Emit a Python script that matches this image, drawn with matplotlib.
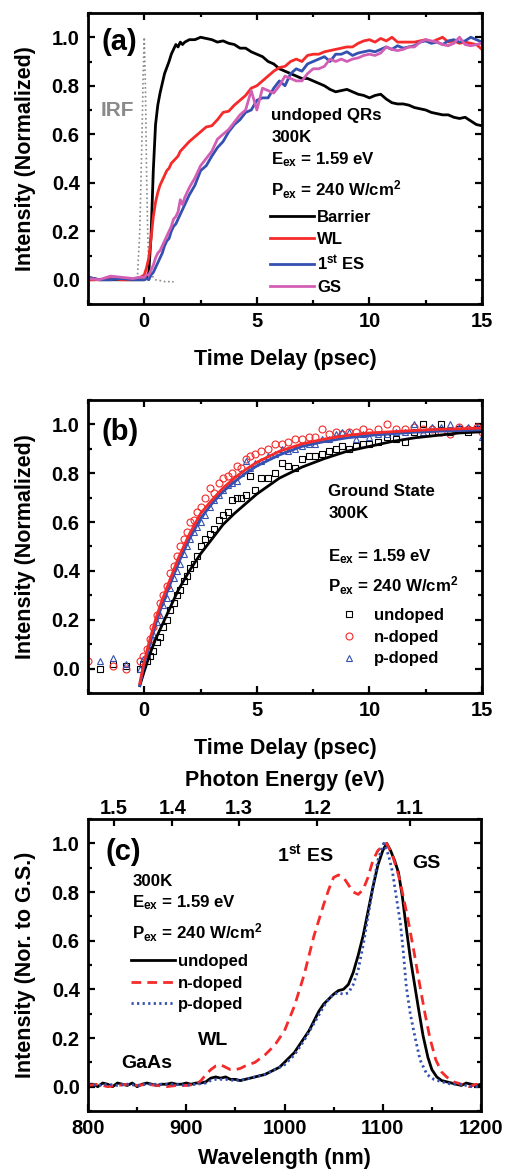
import matplotlib
matplotlib.use("Agg")
import matplotlib.pyplot as plt
from matplotlib.ticker import MultipleLocator, FormatStrFormatter
import numpy as np

plt.rcParams['font.family'] = ['Liberation Sans', 'DejaVu Sans']
plt.rcParams['font.weight'] = 'bold'
plt.rcParams['axes.labelweight'] = 'bold'
plt.rcParams['mathtext.fontset'] = 'custom'
plt.rcParams['mathtext.rm'] = 'Liberation Sans:bold'
plt.rcParams['mathtext.bf'] = 'Liberation Sans:bold'
plt.rcParams['mathtext.it'] = 'Liberation Sans:bold'
plt.rcParams['mathtext.default'] = 'rm'

RED = '#f52a2a'
BLUE = '#3450b0'
PINK = '#d35fb5'

# ---------------- panel (a): time-resolved PL, undoped QRs ----------------
t_a = [-2.5, -2.0, -1.5, -1.0, -0.5, -0.25,
       0.0, 0.1, 0.2, 0.3, 0.4, 0.5, 0.6, 0.7, 0.8, 0.9, 1.0,
       1.1, 1.2, 1.3, 1.4, 1.5, 1.6, 1.7, 1.8, 1.9, 2.0,
       2.25, 2.5, 2.75, 3.0, 3.25, 3.5, 3.75, 4.0, 4.25, 4.5, 4.75, 5.0,
       5.25, 5.5, 5.75, 6.0, 6.25, 6.5, 6.75, 7.0, 7.25, 7.5, 7.75, 8.0,
       8.25, 8.5, 8.75, 9.0, 9.25, 9.5, 9.75, 10.0, 10.25, 10.5, 10.75, 11.0,
       11.25, 11.5, 11.75, 12.0, 12.25, 12.5, 12.75, 13.0, 13.25, 13.5, 13.75, 14.0,
       14.25, 14.5, 14.75, 15.0]
barrier = [0.01, 0.0, 0.0, 0.0, 0.0, 0.0,
           0.0, 0.01, 0.03, 0.18, 0.45, 0.64, 0.72, 0.77, 0.81, 0.85, 0.875,
           0.90, 0.93, 0.95, 0.97, 0.96, 0.98, 0.97, 0.98, 0.985, 0.99,
           0.99, 1.0, 0.995, 0.99, 0.98, 0.985, 0.975, 0.97, 0.955, 0.955, 0.94, 0.93,
           0.92, 0.90, 0.89, 0.87, 0.86, 0.85, 0.84, 0.83, 0.83, 0.82, 0.81, 0.80,
           0.785, 0.775, 0.78, 0.785, 0.775, 0.765, 0.76, 0.75, 0.76, 0.765, 0.745, 0.73,
           0.725, 0.725, 0.72, 0.71, 0.705, 0.70, 0.69, 0.685, 0.68, 0.68, 0.67, 0.665,
           0.67, 0.655, 0.64, 0.635]
wl_a = [0.0, 0.0, 0.005, 0.0, 0.0, 0.005,
        0.02, 0.05, 0.09, 0.17, 0.26, 0.32, 0.36, 0.39, 0.41, 0.43, 0.45,
        0.46, 0.48, 0.49, 0.50, 0.51, 0.53, 0.54, 0.55, 0.56, 0.57,
        0.59, 0.61, 0.63, 0.635, 0.66, 0.69, 0.695, 0.72, 0.74, 0.76, 0.79, 0.80,
        0.82, 0.84, 0.86, 0.875, 0.88, 0.90, 0.91, 0.90, 0.925, 0.93, 0.93, 0.94,
        0.945, 0.95, 0.955, 0.96, 0.96, 0.975, 0.985, 0.99, 0.98, 0.995, 0.985, 1.0,
        0.98, 0.98, 0.98, 0.98, 0.985, 0.99, 0.98, 0.99, 1.0, 0.98, 0.985, 0.975,
        0.98, 0.975, 0.97, 0.95]
es1 = [0.01, 0.0, 0.0, 0.005, 0.0, 0.0,
       0.0, 0.005, 0.0, 0.02, 0.03, 0.05, 0.07, 0.09, 0.11, 0.14, 0.16,
       0.17, 0.20, 0.22, 0.23, 0.25, 0.27, 0.29, 0.31, 0.33, 0.35,
       0.39, 0.45, 0.47, 0.51, 0.545, 0.57, 0.61, 0.64, 0.66, 0.69, 0.70, 0.74,
       0.75, 0.75, 0.79, 0.82, 0.80, 0.85, 0.87, 0.86, 0.89, 0.90, 0.91, 0.92,
       0.90, 0.93, 0.93, 0.94, 0.925, 0.935, 0.94, 0.945, 0.94, 0.95, 0.96, 0.95,
       0.965, 0.955, 0.96, 0.965, 0.98, 0.985, 0.975, 0.98, 0.97, 0.985, 0.99, 0.98,
       0.985, 1.0, 0.99, 0.98]
gs = [0.005, 0.0, 0.015, 0.01, 0.005, 0.01,
      0.01, 0.02, 0.02, 0.04, 0.06, 0.09, 0.11, 0.12, 0.14, 0.16, 0.18,
      0.20, 0.22, 0.25, 0.26, 0.28, 0.33, 0.31, 0.34, 0.36, 0.38,
      0.42, 0.47, 0.50, 0.53, 0.58, 0.60, 0.62, 0.65, 0.68, 0.70, 0.78, 0.70,
      0.79, 0.78, 0.77, 0.80, 0.84, 0.83, 0.82, 0.82, 0.85, 0.87, 0.87, 0.88,
      0.91, 0.90, 0.91, 0.90, 0.91, 0.915, 0.925, 0.93, 0.925, 0.935, 0.96, 0.95,
      0.945, 0.95, 0.96, 0.96, 0.98, 0.99, 0.985, 0.98, 0.97, 0.965, 0.975, 1.0,
      0.97, 0.965, 0.97, 0.975]
t_irf = [-0.5, -0.35, -0.3, -0.2, -0.1, -0.05, 0.0, 0.05, 0.1, 0.15, 0.2, 0.3,
         0.5, 0.8, 1.0, 1.2, 1.3]
irf = [0.0, 0.0, 0.02, 0.2, 0.6, 0.85, 1.0, 0.8, 0.45, 0.2, 0.06, 0.02,
       0.0, -0.005, -0.01, -0.005, -0.01]

# ---------------- panel (b): ground state rise, three dopings ----------------
t_b = [-2.5, -1.95, -1.4, -0.8, -0.2,
       -0.05, 0.1, 0.25, 0.4, 0.55, 0.7, 0.85, 1.0, 1.15, 1.3, 1.45, 1.6, 1.75,
       1.9, 2.05, 2.2, 2.35,
       2.5, 2.7, 2.9, 3.1, 3.3, 3.5, 3.7, 3.9, 4.1, 4.3, 4.5, 4.7, 4.9,
       5.2, 5.5, 5.8, 6.1, 6.4, 6.7, 7.0, 7.3, 7.6, 7.9, 8.2, 8.5, 8.8, 9.1,
       9.4, 9.7, 10.0,
       10.4, 10.8, 11.2, 11.6, 12.0, 12.4, 12.8, 13.2, 13.6, 14.0, 14.4, 14.8,
       15.0]
undoped_b = [np.nan, 0.0, 0.02, 0.01, 0.0,
             0.02, 0.03, 0.05, 0.07, 0.11, 0.13, 0.17, 0.20, 0.24, 0.27, 0.30, 0.32, 0.36,
             0.38, 0.41, 0.43, 0.46,
             0.50, 0.53, 0.55, 0.57, 0.61, 0.63, 0.64, 0.69, 0.70, 0.70, 0.71, 0.79, 0.73,
             0.78, 0.78, 0.80, 0.84, 0.83, 0.82, 0.86, 0.87, 0.87, 0.88, 0.89, 0.90, 0.91, 0.90,
             0.91, 0.92, 0.92,
             0.93, 0.95, 0.94, 0.93, 0.97, 1.00, 0.97, 1.00, 0.97, 0.98, 0.97, 0.98,
             0.98]
ndoped_b = [0.03, np.nan, 0.01, 0.0, 0.03,
            0.05, 0.08, 0.12, 0.17, 0.22, 0.27, 0.30, 0.34, 0.39, 0.42, 0.46, 0.50, 0.53,
            0.56, 0.60, 0.61, 0.64,
            0.66, 0.70, 0.74, 0.72, 0.76, 0.78, 0.79, 0.80, 0.83, 0.82, 0.86, 0.87, 0.88,
            0.89, 0.90, 0.92, 0.92, 0.93, 0.94, 0.94, 0.95, 0.95, 0.98, 0.96, 0.97, 0.96, 0.97,
            0.97, 0.98, 0.97,
            0.98, 1.00, 0.98, 0.98, 0.99, 0.98, 0.98, 0.97, 0.96, 0.99, 0.98, 0.99,
            0.97]
pdoped_b = [np.nan, 0.03, 0.045, 0.02, 0.0,
            0.04, 0.06, 0.10, 0.14, 0.19, 0.22, 0.26, 0.29, 0.33, 0.37, 0.40, 0.43, 0.47,
            0.50, 0.53, 0.56, 0.58,
            0.60, 0.63, 0.66, 0.69, 0.71, 0.73, 0.75, 0.76, 0.77, 0.80, 0.85, 0.82, 0.84,
            0.85, 0.87, 0.88, 0.90, 0.89, 0.90, 0.91, 0.92, 0.92, 0.94, 0.94, 0.96, 0.97, 0.97,
            0.94, 0.96, 0.95,
            0.96, 0.96, 0.97, 0.97, 1.00, 0.97, 0.99, 0.99, 1.00, 0.99, 0.99, 0.99,
            0.95]
t_fit = [-0.2, 0.0, 0.25, 0.5, 0.75, 1.0, 1.5, 2.0, 2.5, 3.0, 3.5, 4.0, 4.5, 5.0,
         6.0, 7.0, 8.0, 9.0, 10.0, 11.0, 12.0, 13.0, 14.0, 15.0]
fit_undoped = [-0.07, -0.01, 0.06, 0.12, 0.17, 0.22, 0.32, 0.40, 0.47, 0.53, 0.59, 0.635,
               0.675, 0.715, 0.78, 0.825, 0.86, 0.89, 0.91, 0.93, 0.945, 0.955, 0.965, 0.97]
fit_ndoped = [-0.06, 0.03, 0.12, 0.20, 0.27, 0.33, 0.45, 0.55, 0.635, 0.69, 0.74, 0.78,
              0.815, 0.845, 0.89, 0.92, 0.94, 0.955, 0.965, 0.97, 0.975, 0.98, 0.982, 0.985]
fit_pdoped = [-0.07, 0.02, 0.10, 0.18, 0.25, 0.31, 0.43, 0.53, 0.615, 0.675, 0.725, 0.765,
              0.80, 0.83, 0.875, 0.91, 0.93, 0.945, 0.955, 0.962, 0.968, 0.972, 0.975, 0.978]

# ---------------- panel (c): PL spectra ----------------
wl_u = [800, 805, 810, 815, 820, 825, 830, 835, 840, 845, 850, 855, 860, 865, 870,
        875, 880, 885, 890, 895, 900, 905, 910, 915, 920, 925, 930, 935, 940, 945,
        950, 955, 960, 965, 970, 975, 980, 985, 990, 995, 1000, 1005, 1010, 1015,
        1020, 1025, 1030, 1035, 1040, 1045, 1050, 1055, 1060, 1065, 1070, 1075,
        1080, 1085, 1090, 1095, 1100, 1104, 1108, 1112, 1116, 1120, 1124, 1128,
        1132, 1136, 1141, 1146, 1150, 1155, 1160, 1165, 1170, 1175, 1180, 1185,
        1190, 1195, 1200]
pl_u = [0.01, 0.01, 0.0, 0.015, 0.01, 0.0, 0.015, 0.01, 0.005, 0.015, 0.0, 0.01, 0.015,
        0.01, 0.005, 0.01, 0.01, 0.015, 0.01, 0.01, 0.015, 0.01, 0.015, 0.015, 0.02,
        0.035, 0.04, 0.035, 0.04, 0.03, 0.03, 0.025, 0.03, 0.035, 0.04, 0.045, 0.05,
        0.06, 0.07, 0.08, 0.10, 0.12, 0.14, 0.17, 0.20, 0.23, 0.27, 0.31, 0.34, 0.36,
        0.38, 0.395, 0.40, 0.42, 0.47, 0.54, 0.62, 0.72, 0.82, 0.91, 0.97, 1.0, 0.97,
        0.93, 0.88, 0.78, 0.65, 0.53, 0.43, 0.33, 0.21, 0.12, 0.07, 0.04, 0.025, 0.02,
        0.015, 0.01, 0.005, 0.015, 0.01, 0.005, 0.01]
wl_n = [800, 810, 820, 830, 840, 850, 860, 870, 880, 890, 900, 910, 915, 920, 925,
        930, 935, 940, 945, 950, 955, 960, 970, 980, 990, 1000, 1010, 1020, 1030,
        1040, 1045, 1050, 1055, 1060, 1065, 1070, 1075, 1080, 1085, 1090, 1095,
        1100, 1104, 1110, 1116, 1121, 1126, 1132, 1138, 1143, 1148, 1154, 1160,
        1165, 1172, 1180, 1188, 1195, 1200]
pl_n = [0.005, 0.01, 0.0, 0.005, 0.01, 0.005, 0.01, 0.005, 0.0, 0.005, 0.005, 0.01,
        0.025, 0.05, 0.07, 0.085, 0.09, 0.08, 0.07, 0.07, 0.075, 0.085, 0.10, 0.13,
        0.17, 0.23, 0.33, 0.46, 0.62, 0.75, 0.81, 0.86, 0.87, 0.86, 0.83, 0.80, 0.79,
        0.81, 0.86, 0.93, 0.97, 0.99, 1.0, 0.95, 0.87, 0.78, 0.68, 0.55, 0.41, 0.30,
        0.20, 0.11, 0.06, 0.04, 0.02, 0.01, 0.0, 0.01, 0.005]
wl_p = [800, 810, 820, 830, 840, 850, 860, 870, 880, 890, 900, 910, 920, 925, 930,
        940, 950, 960, 970, 980, 990, 1000, 1010, 1020, 1030, 1040, 1045, 1050,
        1055, 1060, 1065, 1070, 1075, 1080, 1085, 1090, 1095, 1101, 1106, 1110,
        1113, 1118, 1121, 1124, 1128, 1133, 1138, 1145, 1152, 1160, 1170, 1180,
        1190, 1200]
pl_p = [0.01, 0.005, 0.01, 0.005, 0.01, 0.005, 0.01, 0.01, 0.01, 0.01, 0.005, 0.01,
        0.015, 0.025, 0.03, 0.03, 0.025, 0.03, 0.04, 0.05, 0.07, 0.09, 0.13, 0.19,
        0.26, 0.33, 0.36, 0.38, 0.385, 0.38, 0.385, 0.42, 0.48, 0.58, 0.70, 0.82,
        0.93, 1.0, 0.95, 0.88, 0.80, 0.67, 0.55, 0.41, 0.30, 0.20, 0.11, 0.05, 0.03,
        0.02, 0.01, 0.01, 0.0, 0.0]
energy_ticks = [1.5, 1.4, 1.3, 1.2, 1.1]


def style_axis(ax, xlim, xmaj, xmin, ylabel, top=True):
    ax.set_xlim(*xlim)
    ax.set_ylim(-0.1, 1.1)
    ax.xaxis.set_major_locator(MultipleLocator(xmaj))
    ax.xaxis.set_minor_locator(MultipleLocator(xmin))
    ax.yaxis.set_major_locator(MultipleLocator(0.2))
    ax.yaxis.set_minor_locator(MultipleLocator(0.1))
    ax.yaxis.set_major_formatter(FormatStrFormatter('%.1f'))
    ax.tick_params(which='both', direction='in', top=top, right=True, width=1.6)
    ax.tick_params(which='major', length=5, labelsize=14.5, pad=6)
    ax.tick_params(which='minor', length=3)
    for s in ax.spines.values():
        s.set_linewidth(2.0)
    ax.set_ylabel(ylabel, fontsize=15.5)
    ax.yaxis.set_label_coords(-0.132, 0.5)


fig = plt.figure(figsize=(5.06, 11.73), dpi=100)
W, H = 506.0, 1173.0
ax1 = fig.add_axes([88 / W, 1 - 304 / H, 394 / W, 291 / H])
ax2 = fig.add_axes([88 / W, 1 - 693 / H, 394 / W, 293 / H])
ax3 = fig.add_axes([88 / W, 1 - 1111 / H, 393 / W, 292 / H])

txt = dict(fontsize=12.2, fontweight='bold', va='baseline', ha='left')
leg = dict(loc='upper left', frameon=False, fontsize=12, labelspacing=0.4,
           borderpad=0, borderaxespad=0)

# (a)
ax1.plot(t_irf, irf, color='#8a8a8a', ls=':', lw=1.2, label='_nolegend_')
ax1.plot(t_a, barrier, color='black', lw=2, label='Barrier')
ax1.plot(t_a, wl_a, color=RED, lw=2, label='WL')
ax1.plot(t_a, es1, color=BLUE, lw=2, label='1$^{st}$ ES')
ax1.plot(t_a, gs, color=PINK, lw=2, label='GS')
style_axis(ax1, (-2.5, 15), 5, 2.5, 'Intensity (Normalized)')
ax1.set_xlabel('Time Delay (psec)', fontsize=15.5, labelpad=13)
ax1.text(-1.9, 0.948, '(a)', fontsize=21, fontweight='bold', va='baseline', ha='left')
ax1.text(-1.94, 0.677, 'IRF', fontsize=15, fontweight='bold', color='#8a8a8a',
         va='baseline', ha='left')
ax1.text(5.65, 0.657, 'undoped QRs', **txt)
ax1.text(5.65, 0.567, '300K', **txt)
ax1.text(5.65, 0.478, 'E$_{ex}$ = 1.59 eV', **txt)
ax1.text(5.65, 0.348, 'P$_{ex}$ = 240 W/cm$^{2}$', **txt)
ax1.legend(bbox_to_anchor=(0.463, 0.322), handlelength=2.6, handletextpad=0.2, **leg)

# (b)
mk = dict(ls='none', markersize=5, markeredgewidth=0.8, markerfacecolor='none')
ax2.plot(t_b, undoped_b, marker='s', markeredgecolor='black', label='undoped', **mk)
ax2.plot(t_b, ndoped_b, marker='o', markeredgecolor=RED, label='n-doped', **mk)
ax2.plot(t_b, pdoped_b, marker='^', markeredgecolor=BLUE, label='p-doped', **mk)
ax2.plot(t_fit, fit_undoped, color='black', lw=2)
ax2.plot(t_fit, fit_pdoped, color=BLUE, lw=2)
ax2.plot(t_fit, fit_ndoped, color=RED, lw=2)
style_axis(ax2, (-2.5, 15), 5, 2.5, 'Intensity (Normalized)')
ax2.set_xlabel('Time Delay (psec)', fontsize=15.5, labelpad=13)
ax2.text(-1.9, 0.938, '(b)', fontsize=21, fontweight='bold', va='baseline', ha='left')
ax2.text(8.18, 0.707, 'Ground State', **txt)
ax2.text(8.18, 0.618, '300K', **txt)
ax2.text(8.18, 0.441, 'E$_{ex}$ = 1.59 eV', **txt)
ax2.text(8.18, 0.313, 'P$_{ex}$ = 240 W/cm$^{2}$', **txt)
ax2.legend(bbox_to_anchor=(0.641, 0.29), handlelength=1.0, handletextpad=1.0, **leg)

# (c)
ax3.plot(wl_u, pl_u, color='black', lw=2, label='undoped')
ax3.plot(wl_n, pl_n, color=RED, lw=2, ls=(0, (3.5, 2.2)), label='n-doped')
ax3.plot(wl_p, pl_p, color=BLUE, lw=2, ls=(0, (0.8, 1.2)), label='p-doped')
style_axis(ax3, (800, 1200), 100, 50, 'Intensity (Nor. to G.S.)', top=False)
ax3.set_xlabel('Wavelength (nm)', fontsize=15.5, labelpad=7)
sec = ax3.secondary_xaxis('top', functions=(lambda w: 1240.0 / np.asarray(w),
                                            lambda e: 1240.0 / np.asarray(e)))
sec.set_xticks(energy_ticks)
sec.xaxis.set_major_formatter(FormatStrFormatter('%.1f'))
sec.tick_params(direction='in', length=5, width=1.6, labelsize=14.5, pad=1)
sec.set_xlabel('Photon Energy (eV)', fontsize=15.5, labelpad=9)
ax3.text(818, 0.931, '(c)', fontsize=21, fontweight='bold', va='baseline', ha='left')
ax3.text(992, 0.928, '1$^{st}$ ES', fontsize=14, fontweight='bold', va='baseline')
ax3.text(1130, 0.90, 'GS', fontsize=14, fontweight='bold', va='baseline')
ax3.text(912, 0.172, 'WL', fontsize=14, fontweight='bold', va='baseline')
ax3.text(834, 0.078, 'GaAs', fontsize=14, fontweight='bold', va='baseline')
ax3.text(845, 0.825, '300K', **txt)
ax3.text(845, 0.736, 'E$_{ex}$ = 1.59 eV', **txt)
ax3.text(845, 0.608, 'P$_{ex}$ = 240 W/cm$^{2}$', **txt)
ax3.legend(bbox_to_anchor=(0.11, 0.538), handlelength=2.6, handletextpad=0.2, **leg)

fig.savefig('out.png', dpi=100)
